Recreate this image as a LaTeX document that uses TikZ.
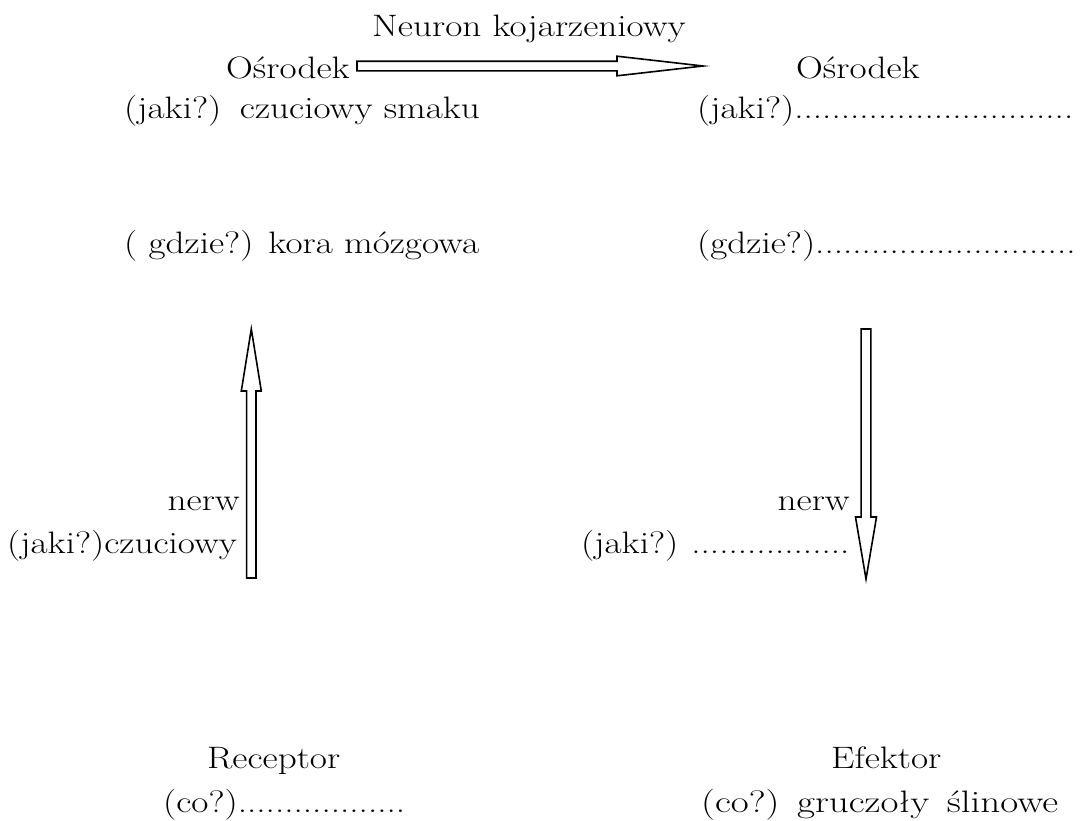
\documentclass[tikz,border=0pt]{standalone}
\usepackage{graphicx}
\usetikzlibrary{calc}
% text set slightly wider than Latin Modern's natural width
\newcommand{\wtext}[1]{\scalebox{1.2}[1]{#1}}
\tikzset{
  lbl/.style={inner sep=0pt, anchor=base west, font=\fontsize{31pt}{37pt}\selectfont},
  blockarrow/.style={draw=black, fill=white, line width=1.6pt, line join=miter}
}
\begin{document}
\begin{tikzpicture}[x=1pt,y=-1pt]
\useasboundingbox (0,0) rectangle (1084,820);

% headline
\node[lbl] (neuron) at (372,36) {\wtext{Neuron kojarzeniowy}};

% sensory centre (left column)
\node[lbl] (osrL)  at (226,78)  {\wtext{Ośrodek}};
\node[lbl] (jakiL) at (124,118) {\wtext{(jaki?)\hspace{0.5em}czuciowy smaku}};
\node[lbl] (gdzL)  at (124,253) {\wtext{( gdzie?) kora mózgowa}};

% motor centre (right column)
\node[lbl] (osrR)  at (796,78)  {\wtext{Ośrodek}};
\node[lbl] (jakiR) at (697,118) {\wtext{(jaki?)..............................}};
\node[lbl] (gdzR)  at (697,253) {\wtext{(gdzie?)............................}};

% nerves
\node[lbl, anchor=base east] (nerwL) at (240,510) {\wtext{nerw}};
\node[lbl] (czucL) at (7,553) {\wtext{(jaki?)czuciowy}};
\node[lbl, anchor=base east] (nerwR) at (850,510) {\wtext{nerw}};
\node[lbl] (jakiN) at (581,553) {\wtext{(jaki?)\hspace{0.35em}.................}};

% receptor and effector
\node[lbl] (rec)  at (207,768) {\wtext{Receptor}};
\node[lbl] (coL)  at (163,812) {\wtext{(co?)..................}};
\node[lbl] (efk)  at (831,768) {\wtext{Efektor}};
\node[lbl] (coR)  at (701,812) {\scalebox{1.26}[1]{(co?)\hspace{0.45em}gruczoły\hspace{0.45em}ślinowe}};

% ends of the block arrows
\coordinate (hS) at (357,66);
\coordinate (hT) at (703,66);
\coordinate (uS) at (251.3,578);
\coordinate (uT) at (251.3,329);
\coordinate (dS) at (866,329);
\coordinate (dT) at (866,579);

% association neuron: left centre to right centre
\draw[blockarrow] ($(hS)+(0,-4.8)$) -- ($(hT)+(-86,-4.8)$) -- ($(hT)+(-86,-9.8)$)
  -- (hT) -- ($(hT)+(-86,9.8)$) -- ($(hT)+(-86,4.8)$) -- ($(hS)+(0,4.8)$) -- cycle;

% sensory nerve, upward
\draw[blockarrow] ($(uS)+(-4.7,0)$) -- ($(uT)+(-4.7,62)$) -- ($(uT)+(-10,62)$)
  -- (uT) -- ($(uT)+(10,62)$) -- ($(uT)+(4.7,62)$) -- ($(uS)+(4.7,0)$) -- cycle;

% motor nerve, downward
\draw[blockarrow] ($(dS)+(-4.9,0)$) -- ($(dT)+(-4.9,-62)$) -- ($(dT)+(-10.5,-62)$)
  -- (dT) -- ($(dT)+(10.5,-62)$) -- ($(dT)+(4.9,-62)$) -- ($(dS)+(4.9,0)$) -- cycle;
\end{tikzpicture}
\end{document}
